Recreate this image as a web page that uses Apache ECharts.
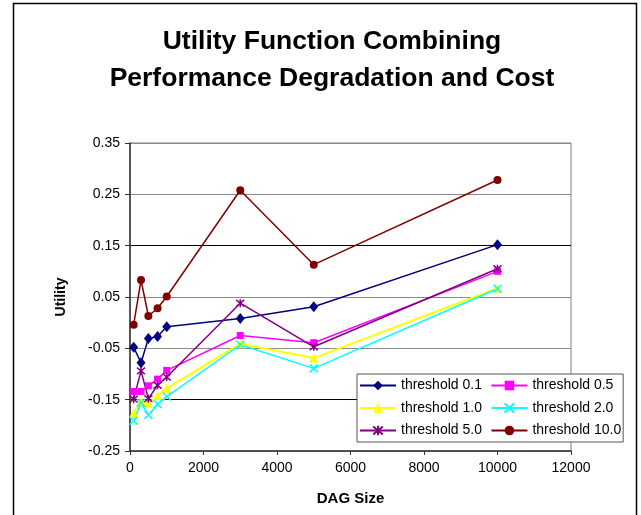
<!DOCTYPE html>
<html>
<head>
<meta charset="utf-8">
<script src="https://cdn.jsdelivr.net/npm/echarts@6/dist/echarts.min.js"></script>
<style>
  html, body { margin: 0; padding: 0; background: #fff; }
  #chart { width: 641px; height: 515px; }
</style>
</head>
<body>
<div id="chart"></div>
<script>
// DAG sizes tested
var dagSizes = [100, 300, 500, 750, 1000, 3000, 5000, 10000];

// Utility per threshold setting
var threshold01  = [-0.048, -0.078, -0.031, -0.027, -0.008, 0.008, 0.031, 0.152];
var threshold05  = [-0.134, -0.134, -0.123, -0.110, -0.093, -0.025, -0.039, 0.100];
var threshold10  = [-0.176, -0.152, -0.157, -0.142, -0.128, -0.041, -0.069, 0.067];
var threshold20  = [-0.191, -0.156, -0.180, -0.159, -0.144, -0.043, -0.089, 0.066];
var threshold50  = [-0.149, -0.094, -0.148, -0.122, -0.106, 0.038, -0.047, 0.105];
var threshold100 = [-0.004, 0.083, 0.013, 0.028, 0.051, 0.258, 0.113, 0.278];

var seriesNames = ['threshold 0.1', 'threshold 0.5', 'threshold 1.0',
                   'threshold 2.0', 'threshold 5.0', 'threshold 10.0'];
// legend fills column by column: left column 0.1 / 1.0 / 5.0, right column 0.5 / 2.0 / 10.0
var legendOrder = ['threshold 0.1', 'threshold 1.0', 'threshold 5.0',
                   'threshold 0.5', 'threshold 2.0', 'threshold 10.0'];

var FONT = '"Liberation Sans", Arial, sans-serif';

function pairs(ys) {
  return dagSizes.map(function (x, i) { return [x, ys[i]]; });
}

var crossPath = 'path://M0,0L10,10M10,0L0,10';
var starPath = 'path://M0,0L10,10M10,0L0,10M5,-1L5,11';

function lineSeries(name, ys, color, symbol, size, opts) {
  opts = opts || {};
  var s = {
    name: name,
    type: 'line',
    data: pairs(ys),
    symbol: symbol,
    symbolSize: size,
    showAllSymbol: true,
    lineStyle: { color: color, width: opts.width || 1.5 },
    itemStyle: { color: color },
    emphasis: { disabled: true },
    animation: false
  };
  if (opts.stroke) {
    s.itemStyle = { color: 'rgba(0,0,0,0)', borderColor: color, borderWidth: 1.5 };
  }
  return s;
}

var chart = echarts.init(document.getElementById('chart'), null, { renderer: 'canvas' });

chart.setOption({
  backgroundColor: '#fff',
  animation: false,
  title: {
    text: 'Utility Function Combining\nPerformance Degradation and Cost',
    left: 327,
    top: 18,
    textAlign: 'center',
    textStyle: {
      fontFamily: FONT,
      fontSize: 26.5,
      fontWeight: 'bold',
      lineHeight: 37,
      color: '#000'
    }
  },
  graphic: [{
    type: 'rect',
    shape: { x: 13.5, y: 3.5, width: 623, height: 600 },
    style: { fill: 'none', stroke: '#000', lineWidth: 1.5 },
    silent: true,
    z: -1
  }],
  grid: {
    left: 130, right: 70, top: 143, bottom: 64,
    show: true,
    borderColor: '#808080',
    borderWidth: 1,
    backgroundColor: '#fff'
  },
  legend: {
    left: 357,
    top: 374,
    height: 62,
    orient: 'vertical',
    itemWidth: 36,
    itemHeight: 12,
    itemGap: 8.5,
    padding: [4.5, 2, 4.5, 2],
    backgroundColor: '#fff',
    borderColor: '#555',
    borderWidth: 1,
    borderRadius: 0,
    textStyle: { fontFamily: FONT, fontSize: 14, color: '#000', width: 84 },
    data: legendOrder
  },
  xAxis: {
    type: 'value',
    min: 0,
    max: 12000,
    interval: 2000,
    name: 'DAG Size',
    nameLocation: 'middle',
    nameGap: 40,
    nameTextStyle: { fontFamily: FONT, fontSize: 15, fontWeight: 'bold', color: '#000' },
    axisLine: { show: true, onZero: false, lineStyle: { color: '#333', width: 1.5 } },
    axisTick: { show: true, length: 4, lineStyle: { color: '#333', width: 1 } },
    axisLabel: {
      fontFamily: FONT, fontSize: 14, color: '#000', margin: 10,
      formatter: function (v) { return String(v); }
    },
    splitLine: { show: false }
  },
  yAxis: {
    type: 'value',
    min: -0.25,
    max: 0.35,
    interval: 0.1,
    name: 'Utility',
    nameLocation: 'middle',
    nameGap: 62,
    nameRotate: 90,
    nameTextStyle: { fontFamily: FONT, fontSize: 14, fontWeight: 'bold', color: '#000' },
    axisLine: { show: true, onZero: false, lineStyle: { color: '#333', width: 1.5 } },
    axisTick: { show: true, length: 5, lineStyle: { color: '#333', width: 1 } },
    axisLabel: {
      fontFamily: FONT, fontSize: 14, color: '#000', margin: 10,
      formatter: function (v) { return (Math.round(v * 100) / 100).toFixed(2); }
    },
    splitLine: { show: true, lineStyle: { color: ['#8a8a8a', '#000', '#8a8a8a'], width: 1 } }
  },
  series: [
    lineSeries(seriesNames[0], threshold01, '#000080', 'diamond', [9, 11]),
    lineSeries(seriesNames[1], threshold05, '#ff00ff', 'rect', 7),
    lineSeries(seriesNames[2], threshold10, '#ffff00', 'triangle', 9, { width: 2 }),
    lineSeries(seriesNames[3], threshold20, '#00ffff', crossPath, 8, { stroke: true }),
    lineSeries(seriesNames[4], threshold50, '#800080', starPath, 8, { stroke: true }),
    lineSeries(seriesNames[5], threshold100, '#800000', 'circle', 8)
  ]
});
</script>
</body>
</html>
